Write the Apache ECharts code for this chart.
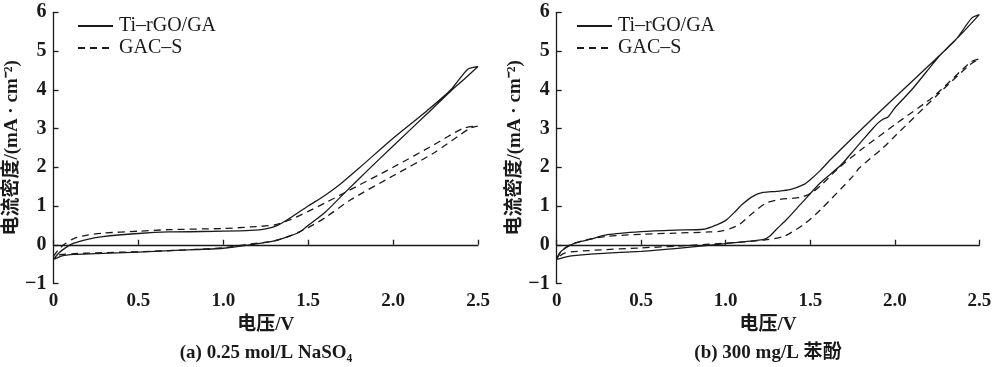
<!DOCTYPE html>
<html>
<head>
<meta charset="utf-8">
<script src="https://cdn.jsdelivr.net/npm/echarts@6/dist/echarts.min.js"></script>
<style>
  html, body { margin: 0; padding: 0; background: #fff; }
  #cv { width: 1001px; height: 367px; }
</style>
</head>
<body>
<div id="cv"></div>
<script>
// (a) 0.25 mol/L NaSO4 -- loops: [voltage V, current density mA/cm2]
var tiA = [
  [0, -0.38], [0.03, -0.22], [0.07, -0.08], [0.12, 0.04], [0.2, 0.14], [0.29, 0.21], [0.5, 0.29],
  [0.68, 0.33], [1.0, 0.35], [1.16, 0.37], [1.25, 0.41], [1.32, 0.5], [1.39, 0.68], [1.5, 1.0],
  [1.6, 1.28], [1.69, 1.57], [1.8, 1.98], [2.0, 2.75], [2.2, 3.46], [2.34, 4.0], [2.44, 4.53], [2.5, 4.6],
  [2.42, 4.28], [2.34, 3.97], [2.2, 3.38], [2.0, 2.55], [1.85, 1.92], [1.71, 1.32], [1.6, 0.84],
  [1.5, 0.5], [1.45, 0.33], [1.4, 0.24], [1.3, 0.1], [1.16, 0.0], [1.0, -0.09], [0.75, -0.14],
  [0.5, -0.19], [0.25, -0.23], [0.12, -0.25], [0.05, -0.29], [0, -0.38]
];
var gacA = [
  [0, -0.3], [0.03, -0.12], [0.07, 0.03], [0.12, 0.16], [0.2, 0.25], [0.29, 0.3], [0.5, 0.35],
  [0.68, 0.39], [1.0, 0.42], [1.16, 0.46], [1.3, 0.51], [1.39, 0.64], [1.5, 0.86], [1.6, 1.08],
  [1.73, 1.38], [2.0, 2.0], [2.24, 2.58], [2.41, 3.0], [2.5, 3.07],
  [2.45, 3.0], [2.24, 2.37], [2.0, 1.78], [1.75, 1.16], [1.6, 0.7], [1.5, 0.44], [1.45, 0.34],
  [1.4, 0.24], [1.3, 0.1], [1.16, 0.02], [1.0, -0.08], [0.75, -0.14], [0.5, -0.18], [0.25, -0.21],
  [0.12, -0.23], [0.05, -0.25], [0, -0.3]
];

// (b) 300 mg/L phenol
var tiB = [
  [0, -0.38], [0.02, -0.2], [0.05, -0.09], [0.1, 0.03], [0.19, 0.13], [0.3, 0.26], [0.5, 0.34],
  [0.7, 0.38], [0.87, 0.4], [0.95, 0.52], [1.0, 0.63], [1.05, 0.83], [1.1, 1.05], [1.16, 1.25],
  [1.22, 1.35], [1.3, 1.38], [1.38, 1.42], [1.46, 1.55], [1.5, 1.68], [1.56, 1.92], [1.62, 2.2],
  [1.8, 2.97], [2.0, 3.8], [2.2, 4.62], [2.36, 5.29], [2.455, 5.85], [2.5, 5.94],
  [2.4, 5.47], [2.27, 4.9], [2.1, 4.0], [2.0, 3.53], [1.96, 3.3], [1.93, 3.24], [1.9, 3.14],
  [1.87, 3.0], [1.76, 2.45], [1.68, 2.05], [1.56, 1.6], [1.45, 1.08], [1.36, 0.65], [1.3, 0.4],
  [1.26, 0.22], [1.22, 0.13], [1.0, 0.03], [0.7, -0.1], [0.5, -0.17], [0.2, -0.24], [0.1, -0.28],
  [0.05, -0.32], [0, -0.38]
];
var gacB = [
  [0, -0.35], [0.03, -0.15], [0.08, 0.0], [0.15, 0.1], [0.2, 0.15], [0.3, 0.22], [0.5, 0.27],
  [0.7, 0.3], [0.9, 0.33], [0.97, 0.35], [1.03, 0.42], [1.08, 0.52], [1.16, 0.82], [1.24, 1.08],
  [1.32, 1.17], [1.44, 1.22], [1.5, 1.32], [1.56, 1.52], [1.66, 1.95], [1.8, 2.45], [2.0, 3.1],
  [2.23, 3.83], [2.45, 4.72], [2.5, 4.8],
  [2.445, 4.65], [2.25, 3.86], [2.0, 2.8], [1.93, 2.5], [1.79, 1.98], [1.75, 1.76], [1.56, 0.9],
  [1.46, 0.52], [1.34, 0.21], [1.22, 0.12], [1.0, 0.04], [0.7, -0.04], [0.5, -0.08], [0.19, -0.15],
  [0.05, -0.21], [0, -0.35]
];

var names = ['Ti\u2013rGO/GA', 'GAC\u2013S'];
var captions = ['(a) 0.25 mol/L NaSO\u2084', '(b) 300 mg/L 苯酚'];
var xTicks = { min: 0, max: 2.5, step: 0.5 };
var yTicks = { min: -1, max: 6, step: 1 };

var font = "'Liberation Serif', 'Times New Roman', 'Noto Sans CJK SC', serif";
var ink = '#1a1a1a';

var chart = echarts.init(document.getElementById('cv'));

function xAxisOf(i) {
  return {
    gridIndex: i, type: 'value', min: xTicks.min, max: xTicks.max, interval: xTicks.step,
    name: '电压/V', nameLocation: 'middle', nameGap: 30,
    nameTextStyle: { color: ink, fontFamily: font, fontWeight: 'bold', fontSize: 19 },
    axisLine: { lineStyle: { color: ink, width: 1.3 } },
    axisTick: { inside: true, length: 5, lineStyle: { color: ink, width: 1.3 } },
    splitLine: { show: false },
    axisLabel: {
      color: ink, fontFamily: font, fontWeight: 'bold', fontSize: 19, margin: 8,
      formatter: function (v) { return v === 0 ? '0' : v.toFixed(1); }
    }
  };
}
function yAxisOf(i) {
  return {
    gridIndex: i, type: 'value', min: yTicks.min, max: yTicks.max, interval: yTicks.step,
    name: '电流密度/(mA · cm\u207B\u00B2)', nameLocation: 'middle', nameGap: 29,
    nameTextStyle: { color: ink, fontFamily: font, fontWeight: 'bold', fontSize: 19 },
    axisLine: { show: true, lineStyle: { color: ink, width: 1.3 } },
    axisTick: { show: true, inside: true, length: 5, lineStyle: { color: ink, width: 1.3 } },
    splitLine: { show: false },
    axisLabel: {
      color: ink, fontFamily: font, fontWeight: 'bold', fontSize: 20, margin: 7,
      formatter: function (v) { return v < 0 ? '\u2212' + (-v) : String(v); }
    }
  };
}
function loop(name, data, i, dashed) {
  return {
    name: name, type: 'line', xAxisIndex: i, yAxisIndex: i, data: data,
    symbol: 'none', smooth: 0.25, color: ink,
    lineStyle: { color: ink, width: 1.3, type: dashed ? [7, 5] : 'solid' },
    emphasis: { disabled: true }
  };
}
function legendOf(left) {
  return {
    orient: 'vertical', left: left, top: 16, itemWidth: 35, itemHeight: 12, itemGap: 2,
    padding: 0, data: names,
    itemStyle: { opacity: 0 },
    textStyle: { color: ink, fontFamily: font, fontSize: 20, padding: [0, 0, 0, 1] }
  };
}

var option = {
  animation: false,
  backgroundColor: '#fff',
  title: [
    { text: captions[0], left: 266, top: 344, textAlign: 'center', padding: 0,
      textStyle: { color: ink, fontFamily: font, fontWeight: 'bold', fontSize: 19 } },
    { text: captions[1], left: 768, top: 344, textAlign: 'center', padding: 0,
      textStyle: { color: ink, fontFamily: font, fontWeight: 'bold', fontSize: 19 } }
  ],
  legend: [legendOf(77), legendOf(576)],
  grid: [
    { left: 53.5, top: 12.3, width: 424.5, height: 271.2 },
    { left: 556.7, top: 12.3, width: 422.6, height: 271.2 }
  ],
  xAxis: [xAxisOf(0), xAxisOf(1)],
  yAxis: [yAxisOf(0), yAxisOf(1)],
  series: [
    loop(names[0], tiA, 0, false),
    loop(names[1], gacA, 0, true),
    loop(names[0], tiB, 1, false),
    loop(names[1], gacB, 1, true)
  ]
};

option && chart.setOption(option);

window.addEventListener('resize', function () {
  chart.resize();
});
</script>
</body>
</html>
